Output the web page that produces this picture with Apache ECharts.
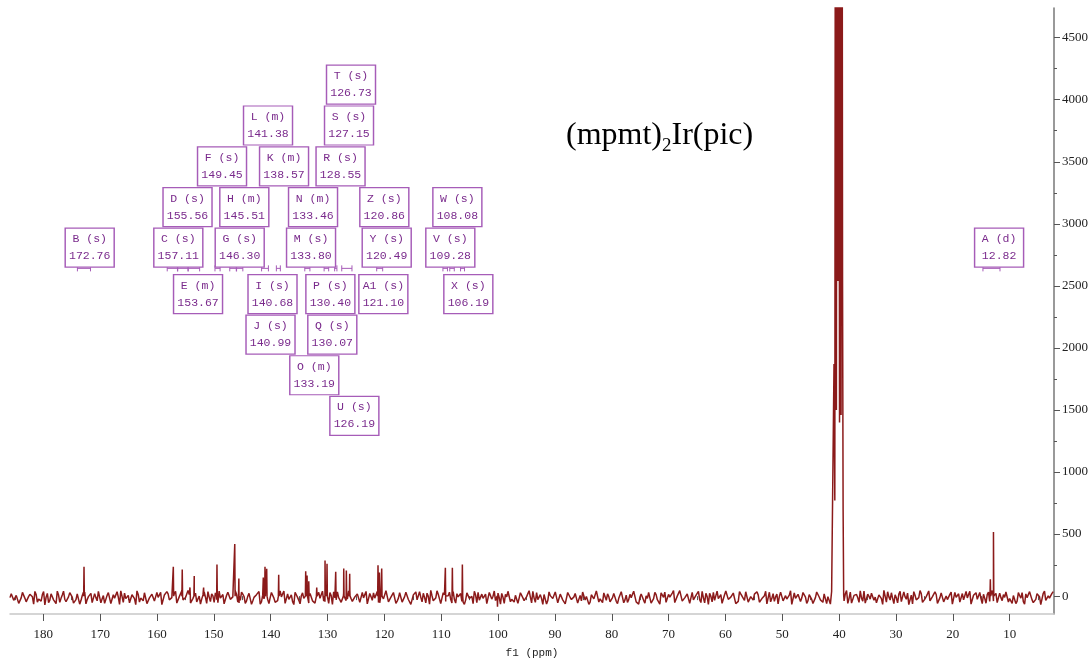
<!DOCTYPE html>
<html><head><meta charset="utf-8">
<script src="https://cdn.jsdelivr.net/npm/echarts@6/dist/echarts.min.js"></script>
<style>html,body{margin:0;padding:0;background:#fff}#c{width:1092px;height:664px}</style>
</head><body><div id="c"></div>
<script>
// ---- axis ticks ----
const xTicks = [180,170,160,150,140,130,120,110,100,90,80,70,60,50,40,30,20,10];
const xMinorTicks = [185,175,165,155,145,135,125,115,105,95,85,75,65,55,45,35,25,15,5];
const yTicks = [0,500,1000,1500,2000,2500,3000,3500,4000,4500];
const yMinorTicks = [250,750,1250,1750,2250,2750,3250,3750,4250];

// ---- baseline noise (two interleaved sample sets, high ppm to low ppm) ----
const noiseStart = 185.86;
const noiseStep = 0.438;
const noise = [
-12,25,-40,8,-55,30,-18,-62,15,-5,38,-48,-20,12,-70,22,-33,5,-15,40,
-50,10,-25,-60,28,-8,-42,18,-65,3,32,-28,-10,-52,20,-38,45,-22,-58,6,
14,-45,-16,35,-66,-2,24,-35,-54,11,-20,42,-48,-6,27,-60,-14,16,-40,30,
-25,-68,9,36,-30,-12,21,-56,-4,44,-36,-18,13,-64,26,-46,1,-24,34,-58,
-8,19,-50,-30,40,-14,-62,7,28,-42,-20,15,-55,33,-3,-38,22,-66,-10,12,
37,-47,-22,5,-60,29,-16,-44,18,-6,41,-52,-26,10,-68,23,-34,2,-18,36,
-56,14,-28,-64,31,-9,-40,20,-58,4,35,-30,-12,-50,25,-36,43,-20,-54,8,
16,-48,-14,38,-62,-4,26,-32,-52,12,-22,44,-46,-8,29,-58,-16,18,-42,32,
-27,-66,10,34,-32,-10,23,-54,-2,46,-38,-16,15,-60,28,-44,3,-26,36,-56,
-6,21,-48,-32,42,-12,-60,9,30,-40,-18,17,-53,35,-1,-36,24,-64,-8,14,
39,-45,-24,7,-58,27,-14,-46,20,-8,39,-50,-28,12,-66,21,-36,4,-20,34,
-54,16,-30,-62,29,-11,-38,22,-56,6,33,-32,-14,-48,27,-34,41,-22,-52,10,
18,-46,-12,36,-60,-6,28,-30,-50,14,-24,42,-44,-10,31,-56,-18,20,-40,30,
-29,-64,12,32,-34,-8,25,-52,0,44,-40,-14,17,-58,30,-42,5,-28,38,-54,
-4,23,-46,-34,40,-10,-58,11,32,-38,-16,19,-51,37,1,-34,26,-62,-6,16,
35,-49,-20,3,-62,31,-18,-42,16,-4,43,-54,-24,8,-66,25,-32,0,-16,38,
-58,12,-26,-66,33,-7,-42,18,-60,2,37,-28,-10,-52,23,-38,45,-18,-56,6,
14,-50,-16,40,-64,-2,24,-34,-54,10,-20,46,-48,-6,27,-60,-14,16,-44,34,
-25,-68,8,36,-30,-12,21,-56,-4,42,-36,-18,13,-62,26,-46,1,-24,32,-58,
-10,19,-50,-30,38,-14,-64,7,28,-42,-22,15,-57,33,-3,-40,22,-66,-12,12,
33,-47,-22,5,-60,29,-16,-44,18,-6,41,-52,-26,10,-68,23,-34,2,-18,36
];
const noiseMid = [
20,-34,6,-58,-14,33,-46,-2,27,-64,12,-24,-40,37,-8,-52,19,-30,-60,9,
-18,40,-44,-6,24,-56,-28,15,-36,31,-62,-4,22,-48,-12,38,-54,4,-26,28,
-60,11,-32,-8,43,-50,-20,6,-42,25,-68,14,-16,-38,34,-58,-2,21,-46,-10,
30,-54,-6,18,-40,-24,39,-62,8,-30,-12,45,-56,-18,24,-36,-64,10,-8,36,
-44,2,27,-52,-16,13,-60,32,-26,-6,41,-48,-34,16,-58,-2,29,-40,-22,19,
-64,8,34,-28,-12,23,-50,-36,42,-4,-58,17,-20,-44,31,-10,-62,26,-32,4,
22,-38,-56,12,-18,40,-46,0,28,-66,-14,35,-30,-52,9,-24,44,-42,-6,18,
-50,30,-8,-62,21,-34,-16,38,-54,6,-26,33,-60,-12,14,-40,27,-48,-4,40,
-20,-58,15,-30,36,-46,-10,24,-64,3,-36,43,-22,-50,11,-14,32,-56,-28,20,
7,-42,-66,26,-18,-2,39,-52,-32,16,-8,-60,30,-24,41,-44,-12,22,-58,-6,
35,-26,-48,10,-62,19,-36,-4,44,-54,-16,28,-40,-20,13,-64,34,-8,-30,24,
-46,16,-14,-58,37,-28,-6,20,-52,-38,31,-2,-66,11,-22,42,-48,-10,26,-34,
-4,-60,22,-42,-18,36,-54,8,-28,-12,40,-46,-64,17,-34,3,29,-56,-20,12,
-38,27,-10,-50,14,-24,45,-62,-6,33,-44,-16,21,-58,-30,6,38,-52,-14,23,
-66,-2,30,-36,-20,12,-56,41,-26,-8,25,-60,-42,18,-12,35,-48,-4,-32,28,
10,-52,-28,39,-14,-46,20,-6,-62,32,-38,4,-22,43,-56,-18,15,-44,29,-8,
-36,24,-60,-12,37,-30,-50,13,-4,-64,26,-20,40,-46,-10,19,-58,33,-26,2,
-14,42,-40,-56,16,-24,31,-8,-48,22,-66,-2,35,-32,-18,11,-54,38,-42,-6,
25,-30,-62,7,-16,44,-50,-22,18,-38,-4,34,-58,-12,27,-44,-28,14,-64,30,
-8,-48,21,-34,-14,39,-56,2,-26,30,-60,-18,12,-42,45,-6,-52,24,-36,-10,
32,-20,-58,16,-40,5,28,-64,-12,36,-30,-46,19,-4,-54,41,-24,-16,22,-44
];

// ---- resolved peaks (ppm, intensity) ----
const peakPpm =    [172.84,157.13,155.56,154.2,153.45,151.8,149.45,146.32,145.6,141.3,141.0,140.7,138.59,133.84,133.6,133.3,131.9,130.44,130.09,128.56,127.15,126.69,126.1,121.12,120.88,120.47,109.27,108.04,106.28,100.1,13.4,12.85];
const peakHeight = [236,   236,   215,   70,   162,   70,   255,   419,   141,  149,  236,  220,  173,   201,   167,  120,  70,   287,   260,   197,   223,   207,   180,  249,   190,   223,   228,   228,   255,   -85, 135, 517];

// ---- solvent (DMSO-d6) multiplet trace ----
const solventPpm =    [41.02,40.90,40.76,40.62,40.48,40.35,40.20,40.07,39.93,39.80,39.66,39.52,39.40,39.30,39.20];
const solventHeight = [30,   1870, 770,   9000, 1500, 9000, 2540, 9000, 1400, 9000, 1460, 9000, 2540, 700,  10];

// ---- peak annotations ----
const labelNames = ['T','S','L','F','K','R','D','H','N','Z','W','B','C','G','M','Y','V','A','E','I','P','A1','X','J','Q','O','U'];
const labelMult  = ['s','s','m','s','m','s','s','m','m','s','s','s','s','s','s','s','s','d','m','s','s','s','s','s','s','m','s'];
const labelShift = ['126.73','127.15','141.38','149.45','138.57','128.55','155.56','145.51','133.46','120.86','108.08','172.76','157.11','146.30','133.80','120.49','109.28','12.82','153.67','140.68','130.40','121.10','106.19','140.99','130.07','133.19','126.19'];

// ---- annotation layout (box centre ppm, row index) ----
const boxPpm = [125.87,126.22,140.47,148.56,137.65,127.71,154.63,144.64,132.55,120.01,107.16,171.84,156.25,145.45,132.90,119.59,108.40,11.86,152.78,139.68,129.50,120.18,105.23,140.03,129.16,132.33,125.28];
const boxRow = [0,1,1,2,2,2,3,3,3,3,3,4,4,4,4,4,4,4,5,5,5,5,5,6,6,7,8];
const rowValue = [4121,3792,3463,3135,2808,2433,2107,1780,1452];
const rangeRowValue = 2641;
const rangeFrom = [174.0,158.2,156.35,154.5,149.8,147.2,146.0,141.6,139.0,134.0,130.6,128.75,127.5,121.35,109.7,108.5,106.6,14.7];
const rangeTo   = [171.7,156.4,154.55,152.5,148.9,146.05,144.9,140.4,138.3,133.1,129.8,128.35,125.7,120.3,108.9,107.7,105.9,11.7];

// ---- build spectrum trace ----
const pts = [];
const inSolvent = p => p < solventPpm[0] + 0.05 && p > solventPpm[solventPpm.length - 1] - 0.05;
noise.forEach((v, i) => {
  const p = noiseStart - i * noiseStep;
  if (!inSolvent(p)) pts.push([p, v]);
});
noiseMid.forEach((v, i) => {
  const p = noiseStart - (i + 0.5) * noiseStep;
  if (p > 2.2 && !inSolvent(p)) pts.push([p, v]);
});
peakPpm.forEach((p, i) => {
  pts.push([p + 0.06, 0]);
  pts.push([p, peakHeight[i]]);
  pts.push([p - 0.06, 0]);
});
solventPpm.forEach((p, i) => pts.push([p, solventHeight[i]]));
pts.sort((a, b) => b[0] - a[0]);

const boxData = labelNames.map((n, i) => ({ name: n, value: [boxPpm[i], rowValue[boxRow[i]]] }));
const rangeData = rangeFrom.map((f, i) => [f, rangeTo[i], rangeRowValue]);

const purple = '#7a2a8c';
const purpleBorder = '#a65cb8';
const tickFont = 'Liberation Serif';
const monoFont = 'Liberation Mono';

const chart = echarts.init(document.getElementById('c'), null, { renderer: 'canvas' });
chart.setOption({
  animation: false,
  backgroundColor: '#fff',
  grid: { left: 10, right: 38, top: 8, bottom: 44 },
  xAxis: [{
    type: 'value', inverse: true, min: 2.2, max: 185.86, position: 'bottom',
    axisLine: { show: true, onZero: false, lineStyle: { color: '#c8c8c8', width: 1.5 } },
    axisTick: { show: true, customValues: xTicks, length: 7, lineStyle: { color: '#555' } },
    axisLabel: { customValues: xTicks, margin: 14, color: '#222', fontFamily: tickFont, fontSize: 13 },
    splitLine: { show: false },
    name: 'f1 (ppm)', nameLocation: 'middle', nameGap: 34,
    nameTextStyle: { color: '#222', fontFamily: monoFont, fontSize: 11 }
  }, {
    type: 'value', inverse: true, min: 2.2, max: 185.86, position: 'bottom',
    axisLine: { show: false },
    axisTick: { show: true, customValues: xMinorTicks, length: 4, lineStyle: { color: '#555' } },
    axisLabel: { show: false }, splitLine: { show: false }
  }],
  yAxis: [{
    type: 'value', position: 'right', min: -144, max: 4739,
    axisLine: { show: true, onZero: false, lineStyle: { color: '#777', width: 1.5 } },
    axisTick: { show: true, customValues: yTicks, length: 6, lineStyle: { color: '#555' } },
    axisLabel: { customValues: yTicks, margin: 8, color: '#222', fontFamily: tickFont, fontSize: 13,
                 formatter: v => String(v) },
    splitLine: { show: false }
  }, {
    type: 'value', position: 'right', min: -144, max: 4739,
    axisLine: { show: false },
    axisTick: { show: true, customValues: yMinorTicks, length: 3, lineStyle: { color: '#555' } },
    axisLabel: { show: false }, splitLine: { show: false }
  }],
  graphic: [{
    type: 'text', left: 566, top: 120,
    style: {
      text: '{a|(mpmt)}{b|2}{a|Ir(pic)}',
      rich: {
        a: { fontSize: 32, fontFamily: 'Liberation Serif', lineHeight: 40, verticalAlign: 'middle', fill: '#000' },
        b: { fontSize: 19, fontFamily: 'Liberation Serif', lineHeight: 19, verticalAlign: 'bottom', fill: '#000' }
      }
    }
  }],
  series: [{
    type: 'line', xAxisIndex: 0, yAxisIndex: 0,
    data: pts, showSymbol: false, symbol: 'none',
    lineStyle: { color: '#8b1a1a', width: 1.5 },
    clip: true, z: 2
  }, {
    type: 'custom', xAxisIndex: 0, yAxisIndex: 0,
    data: rangeData,
    encode: { x: [0, 1], y: 2 },
    renderItem: function (params, api) {
      const a = api.coord([api.value(0), api.value(2)]);
      const b = api.coord([api.value(1), api.value(2)]);
      const st = { stroke: purpleBorder, lineWidth: 1 };
      return { type: 'group', children: [
        { type: 'line', shape: { x1: a[0], y1: a[1], x2: b[0], y2: b[1] }, style: st },
        { type: 'line', shape: { x1: a[0], y1: a[1] - 3, x2: a[0], y2: a[1] + 3 }, style: st },
        { type: 'line', shape: { x1: b[0], y1: b[1] - 3, x2: b[0], y2: b[1] + 3 }, style: st }
      ]};
    },
    z: 3
  }, {
    type: 'scatter', xAxisIndex: 0, yAxisIndex: 0,
    data: boxData,
    symbol: 'rect', symbolSize: [49, 39],
    itemStyle: { color: '#fff', borderColor: purpleBorder, borderWidth: 1.3, opacity: 1 },
    label: {
      show: true, position: 'inside',
      formatter: p => labelNames[p.dataIndex] + ' (' + labelMult[p.dataIndex] + ')\n' + labelShift[p.dataIndex],
      color: purple, fontFamily: monoFont, fontSize: 11.5, lineHeight: 17
    },
    emphasis: { disabled: true },
    z: 4
  }]
});
</script>
</body></html>
